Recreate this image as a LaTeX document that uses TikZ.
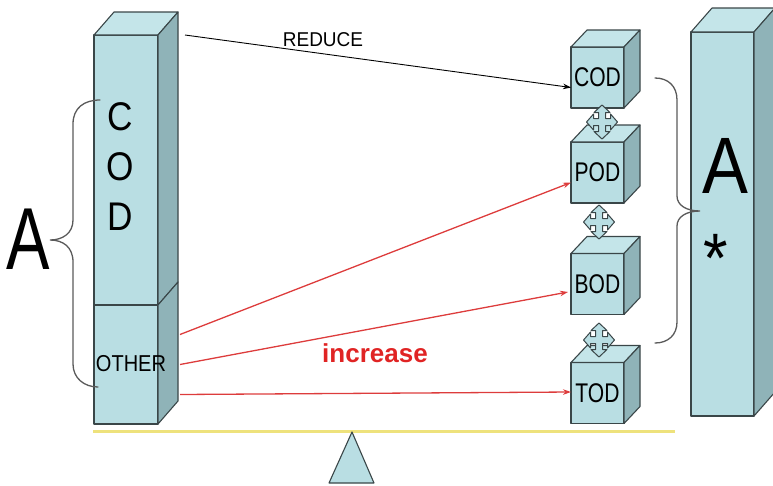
\documentclass[tikz,border=0pt]{standalone}
\usepackage{fontspec}
\setmainfont{Liberation Sans}
\usepackage{graphicx}
\usetikzlibrary{arrows.meta,calc}

\definecolor{facefront}{HTML}{B9DEE3}
\definecolor{faceside}{HTML}{8FB3B8}
\definecolor{facetop}{HTML}{C4E5E9}
\definecolor{edgecol}{HTML}{3A4648}
\definecolor{bracecol}{HTML}{5A5A5A}
\definecolor{arrred}{HTML}{DD3C3C}
\definecolor{incred}{HTML}{E02424}
\definecolor{beamcol}{HTML}{EEE27C}

% sized, horizontally condensed text
\newcommand{\txt}[3]{{\fontsize{#1}{#1}\selectfont\scalebox{#2}[1]{#3}}}

% top and right faces of a box whose front face is node #1, depth (#2,#3)
\newcommand{\boxfaces}[3]{%
  \draw[facestyle, fill=facetop] (#1.north west) -- ++(#2,#3)
    -- ($(#1.north east)+(#2,#3)$) -- (#1.north east) -- cycle;
  \draw[facestyle, fill=faceside] (#1.north east) -- ++(#2,#3)
    -- ($(#1.south east)+(#2,#3)$) -- (#1.south east) -- cycle;
}

\tikzset{
  facestyle/.style={draw=edgecol, line width=1.1pt, line join=round},
  front/.style={facestyle, fill=facefront, rectangle, inner sep=0pt,
    outer sep=0pt, minimum width=#1},
  front/.default=53pt,
  cube/.style={front, minimum height=61pt},
  lbl/.style={inner sep=0pt, text=black},
  brace/.style={draw=bracecol, line width=1.3pt, line cap=round},
  blackarrow/.style={draw=black, line width=0.9pt,
    -{Stealth[length=8pt,width=5.5pt]}},
  redarrow/.style={draw=arrred, line width=1.3pt,
    -{Stealth[length=8pt,width=5.5pt]}},
  moveicon/.pic={
    \draw[edgecol, fill=facefront, line width=1pt, line join=round]
      (0,-17) -- (8,-9.5) -- (3.5,-9.5) -- (3.5,-3.5) -- (8.5,-3.5)
      -- (8.5,-8) -- (15.5,0) -- (8.5,8) -- (8.5,3.5) -- (3.5,3.5)
      -- (3.5,9.5) -- (8,9.5) -- (0,17) -- (-8,9.5) -- (-3.5,9.5)
      -- (-3.5,3.5) -- (-8.5,3.5) -- (-8.5,8) -- (-15.5,0) -- (-8.5,-8)
      -- (-8.5,-3.5) -- (-3.5,-3.5) -- (-3.5,-9.5) -- (-8,-9.5) -- cycle;
  }
}

\begin{document}
\begin{tikzpicture}[x=1pt, y=-1pt]
\useasboundingbox (0,0) rectangle (773,485);

% balance beam and pivot
\draw[beamcol, line width=3pt] (93,431) -- (675,431);
\draw[facestyle, fill=facefront] (352,432) -- (374,483) -- (329,483) -- cycle;

% left column: COD block on top of OTHER block
\node[front=64pt, minimum height=119pt] (other) at (126,364.5) {};
\node[front=64pt, minimum height=270pt] (codcol) at (126,170) {};
\boxfaces{codcol}{20}{-23}
\draw[facestyle, fill=faceside] (other.north east) -- ++(20,-23)
  -- ($(other.south east)+(20,-23)$) -- (other.south east) -- cycle;

\node[lbl] (lc) at (120,117) {\txt{40}{0.88}{C}};
\node[lbl] (lo) at (120,167) {\txt{40}{0.88}{O}};
\node[lbl] (ld) at (120,217) {\txt{40}{0.88}{D}};
\node[lbl] (lother) at (131,364) {\txt{23}{0.87}{OTHER}};

% right column
\node[front=63pt, minimum height=384pt] (astar) at (722.5,224) {};
\boxfaces{astar}{21}{-24}
\node[lbl] (rA) at (725,166) {\txt{80}{0.86}{A}};
\node[lbl, anchor=base] (rstar) at (716,282) {\txt{70}{0.9}{*}};

% stacked cubes
\node[cube] (cod) at (597.5,77.5) {};
\node[cube] (pod) at (597.5,172.5) {};
\node[cube] (bod) at (597.5,284) {};
\node[cube] (tod) at (597.5,393) {};
\foreach \c in {cod,pod,bod,tod} {\boxfaces{\c}{16}{-17}}
\node[lbl] at (cod) {\txt{27}{0.78}{COD}};
\node[lbl] at (pod) {\txt{27}{0.78}{POD}};
\node[lbl] at (bod) {\txt{27}{0.78}{BOD}};
\node[lbl] at (tod) {\txt{27}{0.78}{TOD}};

% four-way connectors between the cubes
\pic at (602,122) {moveicon};
\pic at (599,222) {moveicon};
\pic at (599,340) {moveicon};

% braces
\draw[brace] (100,100) .. controls (84,100) and (73,108) .. (73,124)
  -- (73,220) .. controls (73,233) and (63,240) .. (50,240)
  .. controls (63,240) and (73,247) .. (73,262)
  -- (73,364) .. controls (73,378) and (84,387) .. (98,387);
\node[lbl] (lA) at (28,239) {\txt{88}{0.74}{A}};

\draw[brace] (655,78) .. controls (668,78) and (677,86) .. (677,100)
  -- (677,196) .. controls (677,205) and (686,211) .. (700,211)
  .. controls (686,211) and (677,217) .. (677,226)
  -- (677,322) .. controls (677,335) and (668,343) .. (655,343);

% arrows
\coordinate (rs) at ($(codcol.north east)+(27,0)$);
\draw[blackarrow] (rs) -- ([yshift=-10pt]cod.west);
\node[lbl] (reduce) at (323,40) {\txt{20}{0.95}{REDUCE}};

\draw[redarrow] ($(other.east)+(22,-30)$) -- ([yshift=-10pt]pod.west);
\draw[redarrow] ($(other.east)+(22,0)$) -- ([xshift=-3pt,yshift=-8pt]bod.west);
\draw[redarrow] ($(other.east)+(22,30)$) -- ([yshift=1pt]tod.west);
\node[lbl, text=incred] (inc) at (375,353) {\txt{26}{1}{\bfseries increase}};
\end{tikzpicture}
\end{document}
